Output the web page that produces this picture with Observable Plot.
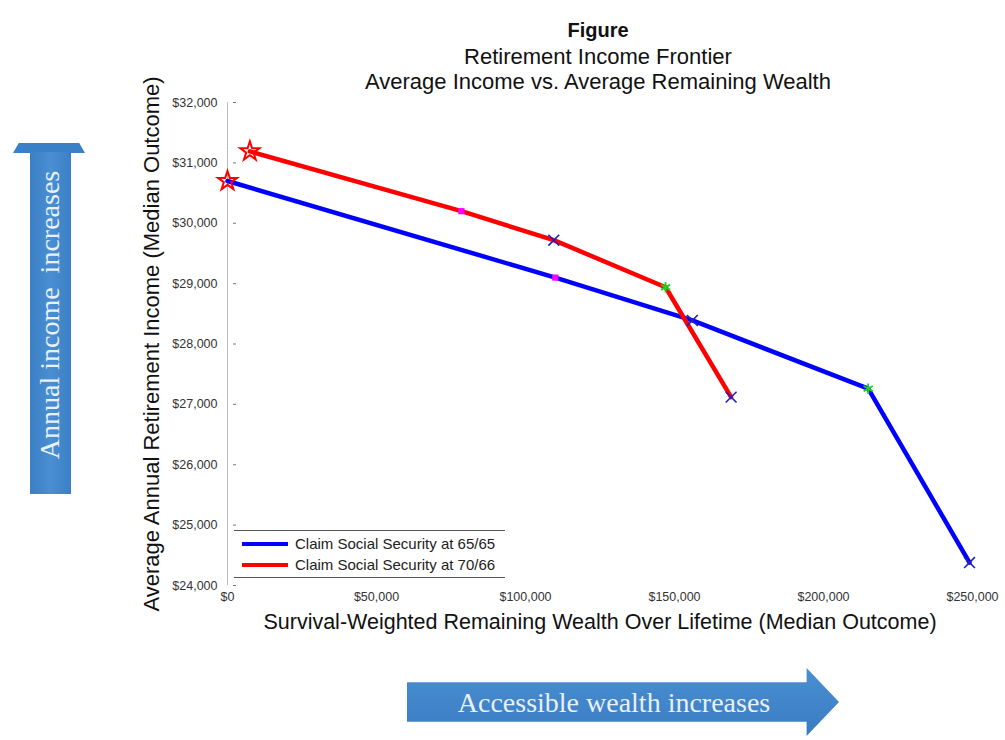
<!DOCTYPE html>
<html>
<head>
<meta charset="utf-8">
<script src="https://cdn.jsdelivr.net/npm/d3@7"></script>
<script src="https://cdn.jsdelivr.net/npm/@observablehq/plot@0.6"></script>
<style>
  html, body { margin: 0; padding: 0; background: #fff; }
  #wrap { position: relative; width: 1005px; height: 740px; overflow: hidden; font-family: "Liberation Sans", Arial, sans-serif; }
  #chart { position: absolute; left: 0; top: 0; }
  .title { position: absolute; left: 0; width: 1196px; text-align: center; color: #111; font-size: 22px; line-height: 26px; }
  #legend { position: absolute; left: 234px; top: 530px; width: 271px; height: 48px; border: 1px solid #555; border-left: none; border-right: none; box-sizing: border-box; background: #fff; }
  .lg { position: absolute; left: 8px; font-size: 15px; color: #222; display: flex; align-items: center; white-space: nowrap; }
  .lg span.sw { display: inline-block; width: 46px; height: 4px; margin-right: 7px; }
  .arrowtext { position: absolute; font-family: "Liberation Serif", "DejaVu Serif", serif; color: #e8f0fa; font-size: 28px; white-space: nowrap; }
</style>
</head>
<body>
<div id="wrap">
  <div id="chart"></div>
  <div class="title" style="top:17px;font-weight:bold;font-size:20px;">Figure</div>
  <div class="title" style="top:44px;">Retirement Income Frontier</div>
  <div class="title" style="top:69px;">Average Income vs. Average Remaining Wealth</div>

  <!-- left arrow -->
  <div style="position:absolute;left:13px;top:143px;width:72px;height:10px;background:#3a80c6;clip-path:polygon(8% 0,92% 0,100% 100%,0 100%);"></div>
  <div style="position:absolute;left:30px;top:152px;width:41px;height:342px;background:linear-gradient(90deg,#3b7fc4,#4a8fd2 50%,#3b7fc4);"></div>
  <div class="arrowtext" style="left:50px;top:315px;transform:translate(-50%,-50%) rotate(-90deg);">Annual income&nbsp; increases</div>

  <!-- bottom arrow -->
  <div style="position:absolute;left:407px;top:668px;width:432px;height:68px;background:linear-gradient(180deg,#4a8fd2,#3a7cc2);clip-path:polygon(0 21%,92.5% 21%,92.5% 0,100% 50%,92.5% 100%,92.5% 79%,0 79%);"></div>
  <div class="arrowtext" style="left:614px;top:703px;transform:translate(-50%,-50%);">Accessible wealth increases</div>

  <div id="legend">
    <div class="lg" style="top:4px;"><span class="sw" style="background:#0000ff"></span>Claim Social Security at 65/65</div>
    <div class="lg" style="top:25px;"><span class="sw" style="background:#ff0000"></span>Claim Social Security at 70/66</div>
  </div>
</div>
<script>
// Data
const seriesNames = ["Claim Social Security at 65/65", "Claim Social Security at 70/66"];
const wealth6565 = [0, 110000, 156000, 215000, 249000];
const income6565 = [30700, 29100, 28390, 27260, 24380];
const wealth7066 = [7500, 78500, 109500, 147000, 169000];
const income7066 = [31190, 30200, 29720, 28940, 27120];
const xTicks = [0, 50000, 100000, 150000, 200000, 250000];
const yTicks = [24000, 25000, 26000, 27000, 28000, 29000, 30000, 31000, 32000];
const xLabel = "Survival-Weighted Remaining Wealth Over Lifetime (Median Outcome)";
const yLabel = "Average Annual Retirement Income (Median Outcome)";

const rows = [];
wealth6565.forEach((w, i) => rows.push({series: seriesNames[0], wealth: w, income: income6565[i], step: i}));
wealth7066.forEach((w, i) => rows.push({series: seriesNames[1], wealth: w, income: income7066[i], step: i}));

const lineColor = {[seriesNames[0]]: "#0000ff", [seriesNames[1]]: "#ff0000"};
const byStep = s => rows.filter(d => d.step === s);

const fmt = d3.format("$,");
const chart = Plot.plot({
  width: 1005,
  height: 740,
  marginLeft: 227,
  marginRight: 33,
  marginTop: 102,
  marginBottom: 155,
  style: {fontFamily: "Liberation Sans, Arial, sans-serif", fontSize: "12.5px", color: "#333", background: "transparent"},
  x: {domain: [0, 250000]},
  y: {domain: [24000, 32000]},
  marks: [
    Plot.ruleX([0], {stroke: "#bbb", strokeWidth: 1}),
    Plot.axisY({ticks: yTicks, tickSize: 0, tickPadding: 10, tickFormat: fmt, label: null, fontSize: 12.5}),
    Plot.axisY({ticks: yTicks, tickSize: 3, dx: 9, tickFormat: () => "", label: null, stroke: "#777"}),
    Plot.axisX({ticks: xTicks, tickSize: 0, tickPadding: 7, tickFormat: fmt, label: null, fontSize: 12.5}),
    Plot.line(rows, {x: "wealth", y: "income", z: "series", stroke: d => lineColor[d.series], strokeWidth: 4.5, strokeLinejoin: "round"}),
    Plot.dot(byStep(0), {x: "wealth", y: "income", symbol: "star", r: 6, stroke: "#ff0000", strokeWidth: 2, fill: "none"}),
    Plot.dot(byStep(1), {x: "wealth", y: "income", symbol: "square", r: 3.5, fill: "#ff00ff", stroke: "none"}),
    Plot.dot(byStep(2), {x: "wealth", y: "income", symbol: "times", r: 5, stroke: "#2020c0", strokeWidth: 1.6}),
    Plot.dot(byStep(3), {x: "wealth", y: "income", symbol: "asterisk", r: 5, stroke: "#22cc22", strokeWidth: 1.8}),
    Plot.dot(byStep(4), {x: "wealth", y: "income", symbol: "times", r: 5, stroke: "#2020c0", strokeWidth: 1.6}),
    Plot.text([xLabel], {frameAnchor: "bottom", dy: 43, fontSize: 21.5, fill: "#111"}),
    Plot.text([yLabel], {frameAnchor: "left", textAnchor: "middle", dx: -76, rotate: -90, fontSize: 22, fill: "#111"})
  ]
});
document.getElementById("chart").appendChild(chart);
</script>
</body>
</html>
